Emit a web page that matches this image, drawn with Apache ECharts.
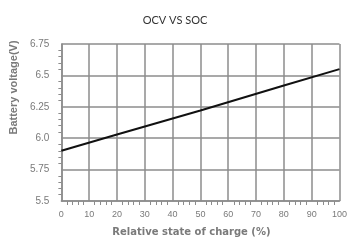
<!DOCTYPE html>
<html>
<head>
<meta charset="utf-8">
<script src="https://cdn.jsdelivr.net/npm/echarts@6/dist/echarts.min.js"></script>
<style>
html,body{margin:0;padding:0;background:#fff;}
#chart{width:350px;height:242px;}
</style>
</head>
<body>
<div id="chart"></div>
<script>
var socValues = [0, 20, 50, 80, 100];
var ocvValues = [5.90, 6.03, 6.22, 6.42, 6.55];

var ocvData = socValues.map(function(s, i) { return [s, ocvValues[i]]; });

var chart = echarts.init(document.getElementById("chart"), null, { renderer: "canvas" });
var gridColor = "#8c8c8c";
var labelColor = "#7a7a7a";

var option = {
	animation: false,
	title: {
		text: "OCV VS SOC",
		left: "center",
		top: 10,
		textStyle: { fontFamily: "Lato", fontSize: 11, fontWeight: "normal", color: "#333" }
	},
	grid: { left: 61, right: 7, top: 44, bottom: 40 },
	xAxis: {
		type: "value",
		min: 0,
		max: 100,
		interval: 10,
		name: "Relative state of charge (%)",
		nameLocation: "middle",
		nameGap: 26,
		nameTextStyle: { fontFamily: "DejaVu Sans", fontSize: 10, fontWeight: "bold", color: labelColor, padding: [0, 18, 0, 0] },
		axisLine: { lineStyle: { color: gridColor, width: 1.5 } },
		axisTick: { show: false },
		minorTick: { show: true, splitNumber: 5, length: 4, lineStyle: { color: gridColor } },
		axisLabel: { inside: false, margin: 9, fontFamily: "Liberation Sans", fontSize: 9, color: labelColor },
		splitLine: { show: true, lineStyle: { color: gridColor, width: 1.5 } }
	},
	yAxis: {
		type: "value",
		min: 5.5,
		max: 6.75,
		interval: 0.25,
		name: "Battery voltage(V)",
		nameLocation: "middle",
		nameGap: 33,
		nameTextStyle: { fontFamily: "Liberation Sans", fontSize: 11, fontWeight: "bold", color: labelColor, padding: [0, 0, 0, 70] },
		axisLine: { show: true, lineStyle: { color: gridColor, width: 1.5 } },
		axisTick: { show: false },
		minorTick: { show: true, splitNumber: 5, length: 3, lineStyle: { color: gridColor } },
		axisLabel: {
			margin: 12,
			fontFamily: "Liberation Sans",
			fontSize: 10,
			color: labelColor,
			formatter: function(v) {
				var s = String(Math.round(v * 100) / 100);
				if (s.indexOf(".") < 0) s += ".0";
				return s;
			}
		},
		splitLine: { show: true, lineStyle: { color: gridColor, width: 1.5 } }
	},
	series: [{
		type: "line",
		data: ocvData,
		showSymbol: false,
		lineStyle: { color: "#111", width: 2 }
	}]
};
chart.setOption(option);
</script>
</body>
</html>
